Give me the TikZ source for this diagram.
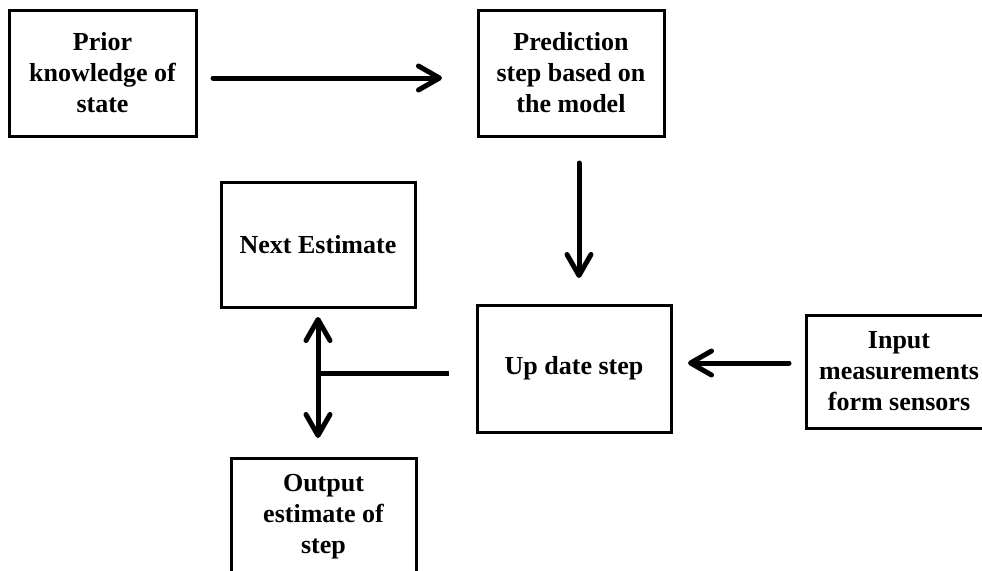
\documentclass[tikz,border=0pt]{standalone}
\usepackage{fontspec}
\setmainfont{Liberation Serif}
\usetikzlibrary{arrows.meta,calc}

\begin{document}
\begin{tikzpicture}[x=1pt,y=-1pt,
  stepbox/.style={draw,line width=3pt,inner sep=0pt,outer sep=0pt,align=center,
    font=\bfseries\fontsize{26}{31}\selectfont},
  barb/.tip={Straight Barb[length=21pt,width=24pt,line join=round,line cap=round]},
  flow/.style={line width=5pt,line cap=round,-barb},
  both/.style={line width=5pt,line cap=round,barb-barb},
  plain/.style={line width=5pt}]
  \useasboundingbox (0,0) rectangle (982,570);
  \clip (0,0) rectangle (982,570);
  \fill[white] (0,0) rectangle (982,570);

  % blocks of the estimation loop
  \node[stepbox,minimum width=187pt,minimum height=126pt] (prior) at (102.5,73) {Prior\\knowledge of\\state};
  \node[stepbox,minimum width=186pt,minimum height=126pt] (pred) at (571,73) {Prediction\\step based on\\the model};
  \node[stepbox,minimum width=194pt,minimum height=125pt] (next) at (318,244.5) {Next Estimate};
  \node[stepbox,minimum width=194pt,minimum height=127pt] (upd) at (574,368.5) {Up date step};
  \node[stepbox,minimum width=186pt,minimum height=113pt] (inp) at (899,371.5) {Input\\measurements\\form sensors};
  \node[stepbox,minimum width=185pt,minimum height=118pt] (out) at (323.5,517) {Output\\estimate of\\step};

  % connectors
  \draw[flow] ($(prior.east)+(17,5)$) -- ($(pred.west)+(-36,5)$);
  \draw[flow] ($(pred.south)+(8,27)$) -- ($(upd.north)+(5,-27)$);
  \draw[flow] ($(inp.west)+(-17,-8.5)$) -- ($(upd.east)+(17,-5.5)$);
  \coordinate (u) at ($(upd.west)+(-28,4.5)$);
  \coordinate (j) at (next.south |- u);
  \draw[plain] (u) -- ([xshift=-2.5pt]j);
  \draw[both] ($(next.south)+(0,10)$) -- ($(out.north)+(-5.5,-20)$);
\end{tikzpicture}
\end{document}
